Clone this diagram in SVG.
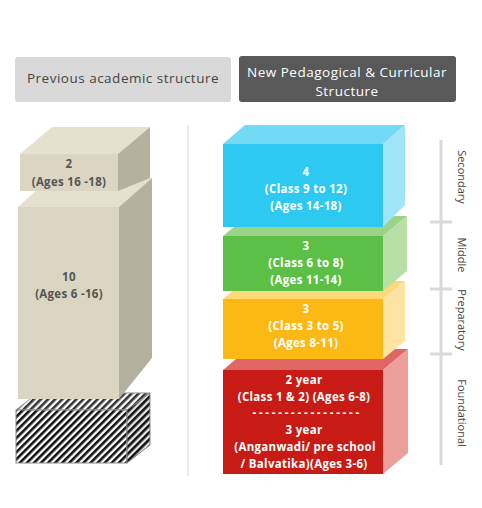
<svg xmlns="http://www.w3.org/2000/svg" width="482" height="508" viewBox="0 0 482 508">
<defs>
<pattern id="hatch" patternUnits="userSpaceOnUse" width="5" height="5" patternTransform="rotate(45)">
<rect width="5" height="5" fill="#ffffff"/>
<rect width="2.6" height="5" fill="#111111"/>
</pattern>
</defs>
<style>
.hdr{font-family:"Open Sans","Liberation Sans",sans-serif;font-size:13.5px;letter-spacing:0.5px;text-anchor:middle}
.bt{font-family:"Open Sans","Liberation Sans",sans-serif;font-size:11.5px;letter-spacing:0.3px;font-weight:700;text-anchor:middle;fill:#ffffff}
.btd{font-family:"Open Sans","Liberation Sans",sans-serif;font-size:11.5px;letter-spacing:0.3px;font-weight:700;text-anchor:middle;fill:#555555}
.lbl{font-family:"Open Sans","Liberation Sans",sans-serif;font-size:11px;text-anchor:middle;dominant-baseline:central;fill:#444444}
.axis{stroke:#d9d9d9;stroke-width:3;fill:none}
</style>
<rect width="482" height="508" fill="#ffffff"/>

<g id="header-previous">
<rect x="15" y="57" width="216" height="45" rx="3" fill="#d9d9d9"/>
<text class="hdr" x="123" y="83" fill="#444444">Previous academic structure</text>
</g>
<g id="header-new">
<rect x="239" y="56" width="217" height="46" rx="3" fill="#595959"/>
<text class="hdr" x="347" y="77" fill="#ffffff">New Pedagogical &amp; Curricular</text>
<text class="hdr" x="347" y="96" fill="#ffffff">Structure</text>
</g>

<g id="divider">
<line x1="188" y1="125" x2="188" y2="476" stroke="#ececec" stroke-width="2"/>
</g>

<g id="old-hatched">
<polygon points="16,410 38,393 150,393 127,410" fill="url(#hatch)" stroke="#8a8a8a" stroke-width="1"/>
<polygon points="16,410 38,393 150,393 127,410" fill="#ffffff" opacity="0.15"/>
<rect x="16" y="410" width="111" height="53" fill="url(#hatch)" stroke="#8a8a8a" stroke-width="1"/>
<polygon points="127,410 150,393 150,445 127,463" fill="url(#hatch)" stroke="#8a8a8a" stroke-width="1"/>
<polygon points="127,410 150,393 150,445 127,463" fill="#000000" opacity="0.1"/>
</g>

<g id="old-10">
<polygon points="18,207 50,178 152,178 119,207" fill="#e4e1cf"/>
<rect x="18" y="207" width="101" height="192" fill="#dad6c1"/>
<polygon points="119,207 152,178 152,358 119,399" fill="#b4b19f"/>
<text class="btd" x="69" y="281">10</text>
<text class="btd" x="69" y="298">(Ages 6 -16)</text>
</g>

<g id="old-2">
<polygon points="20,154 52,127 150,127 118,154" fill="#e4e1cf"/>
<rect x="20" y="154" width="98" height="37" fill="#dad6c1"/>
<polygon points="118,154 150,127 150,178 118,191" fill="#b4b19f"/>
<text class="btd" x="69" y="168">2</text>
<text class="btd" x="69" y="186">(Ages 16 -18)</text>
</g>

<g id="foundational-block">
<polygon points="223,370 248,349 408,349 383,370" fill="#e06663"/>
<rect x="223" y="370" width="160" height="104" fill="#c81b15"/>
<polygon points="383,370 408,349 408,453 383,474" fill="#ec9e9b"/>
<text class="bt" x="304" y="384">2 year</text>
<text class="bt" x="304" y="401">(Class 1 &amp; 2) (Ages 6-8)</text>
<text class="bt" x="306" y="417" textLength="107" lengthAdjust="spacing">-----------------</text>
<text class="bt" x="304" y="434">3 year</text>
<text class="bt" x="305" y="451">(Anganwadi/ pre school</text>
<text class="bt" x="304" y="468">/ Balvatika)(Ages 3-6)</text>
</g>

<g id="preparatory-block">
<polygon points="223,299 245,281 405,281 383,299" fill="#fed979"/>
<rect x="223" y="299" width="160" height="60" fill="#fdb913"/>
<polygon points="383,299 405,281 405,341 383,359" fill="#fde4a2"/>
<text class="bt" x="306" y="313">3</text>
<text class="bt" x="306" y="330">(Class 3  to 5)</text>
<text class="bt" x="306" y="347">(Ages 8-11)</text>
</g>

<g id="middle-block">
<polygon points="223,236 247,216 407,216 383,236" fill="#9bd487"/>
<rect x="223" y="236" width="160" height="55" fill="#5cbf46"/>
<polygon points="383,236 407,216 407,271 383,291" fill="#b7e0a7"/>
<text class="bt" x="306" y="250">3</text>
<text class="bt" x="306" y="267">(Class 6 to 8)</text>
<text class="bt" x="306" y="284">(Ages 11-14)</text>
</g>

<g id="secondary-block">
<polygon points="223,144 245,125 405,125 383,144" fill="#72daf5"/>
<rect x="223" y="144" width="160" height="83" fill="#2ec9f1"/>
<polygon points="383,144 405,125 405,205 383,227" fill="#a0e5f8"/>
<text class="bt" x="306" y="176">4</text>
<text class="bt" x="306" y="193">(Class 9 to 12)</text>
<text class="bt" x="306" y="210">(Ages 14-18)</text>
</g>

<g id="stage-scale">
<line class="axis" x1="441" y1="140" x2="441" y2="465"/>
<line class="axis" x1="430" y1="222" x2="452" y2="222"/>
<line class="axis" x1="430" y1="289" x2="452" y2="289"/>
<line class="axis" x1="430" y1="354" x2="452" y2="354"/>
<text class="lbl" transform="translate(462,177) rotate(90)">Secondary</text>
<text class="lbl" transform="translate(462,255) rotate(90)">Middle</text>
<text class="lbl" transform="translate(462,320) rotate(90)">Preparatory</text>
<text class="lbl" transform="translate(462,413) rotate(90)">Foundational</text>
</g>
</svg>
